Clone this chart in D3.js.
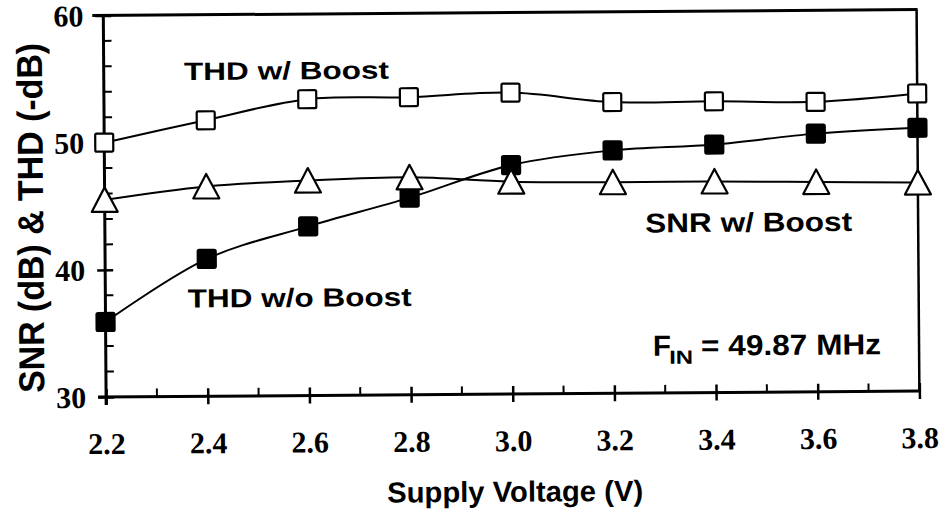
<!DOCTYPE html>
<html>
<head>
<meta charset="utf-8">
<script src="https://cdn.jsdelivr.net/npm/d3@7"></script>
<style>
  html, body { margin: 0; padding: 0; background: #fff; }
  svg { display: block; }
</style>
</head>
<body>
<svg id="chart" width="945" height="513"></svg>
<script>
// ---- data ----
const voltages = [2.2, 2.4, 2.6, 2.8, 3.0, 3.2, 3.4, 3.6, 3.8];
const thdWithBoost = [50.0, 51.7, 53.3, 53.4, 53.7, 52.9, 52.9, 52.8, 53.4];
const thdWithoutBoost = [35.9, 40.8, 43.3, 45.5, 48.0, 49.1, 49.5, 50.3, 50.7];
const snrWithBoost = [45.5, 46.5, 46.9, 47.1, 46.7, 46.6, 46.6, 46.5, 46.4];
const xTickLabels = ["2.2", "2.4", "2.6", "2.8", "3.0", "3.2", "3.4", "3.6", "3.8"];
const yTickValues = [30, 40, 50, 60];
const xMinorTicks = [2.3, 2.5, 2.7, 2.9, 3.1, 3.3, 3.5, 3.7];
const yMinorTicks = [32, 34, 36, 38, 42, 44, 46, 48, 52, 54, 56, 58];

const svg = d3.select("#chart");
const g = svg.append("g").attr("transform", "rotate(-0.42 512 204)");

const x = d3.scaleLinear().domain([2.2, 3.8]).range([104.7, 918]);
const y = d3.scaleLinear().domain([30, 60]).range([394, 12.5]);

const sans = "'Liberation Sans', Arial, Helvetica, sans-serif";
const serif = "'Liberation Serif', 'Times New Roman', Times, serif";

// frame: top and right border
g.append("line").attr("x1", x(2.2) - 11).attr("x2", x(3.8) + 1)
  .attr("y1", y(60)).attr("y2", y(60)).attr("stroke", "#000").attr("stroke-width", 3);
g.append("line").attr("x1", x(3.8)).attr("x2", x(3.8))
  .attr("y1", y(60)).attr("y2", y(30)).attr("stroke", "#000").attr("stroke-width", 2.5);

// x axis
const xAxis = g.append("g").attr("transform", `translate(0,${y(30)})`)
  .call(d3.axisBottom(x).tickValues(voltages).tickSize(0).tickFormat((d, i) => xTickLabels[i]));
xAxis.select(".domain").remove();
xAxis.append("line").attr("x1", x(2.2) - 8).attr("x2", x(3.8)).attr("y1", 0).attr("y2", 0)
  .attr("stroke", "#000").attr("stroke-width", 3);
xAxis.selectAll(".tick line").remove();
xAxis.selectAll(".tick").append("line").attr("y1", -8).attr("y2", 8)
  .attr("stroke", "#000").attr("stroke-width", 2.5);
xAxis.selectAll(".tick text").attr("y", 57).attr("dy", 0)
  .attr("font-family", serif).attr("font-weight", "bold").attr("font-size", 30).attr("fill", "#000");
g.append("g").selectAll("line").data(xMinorTicks).join("line")
  .attr("x1", d => x(d)).attr("x2", d => x(d)).attr("y1", y(30)).attr("y2", y(30) - 8)
  .attr("stroke", "#000").attr("stroke-width", 2);

// y axis
const yAxis = g.append("g").attr("transform", `translate(${x(2.2)},0)`)
  .call(d3.axisLeft(y).tickValues(yTickValues).tickSize(0).tickFormat(d3.format("d")));
yAxis.select(".domain").remove();
yAxis.append("line").attr("x1", 0).attr("x2", 0).attr("y1", y(60) - 1).attr("y2", y(30) + 8)
  .attr("stroke", "#000").attr("stroke-width", 3);
yAxis.selectAll(".tick line").remove();
yAxis.selectAll(".tick").append("line").attr("x1", -8).attr("x2", 8)
  .attr("stroke", "#000").attr("stroke-width", 2.5);
yAxis.selectAll(".tick text").attr("x", -20).attr("dy", "0.34em")
  .attr("font-family", serif).attr("font-weight", "bold").attr("font-size", 30).attr("fill", "#000");
g.append("g").selectAll("line").data(yMinorTicks).join("line")
  .attr("x1", x(2.2)).attr("x2", x(2.2) + 8).attr("y1", d => y(d)).attr("y2", d => y(d))
  .attr("stroke", "#000").attr("stroke-width", 2);

// lines
const line = d3.line().x(d => x(d[0])).y(d => y(d[1])).curve(d3.curveCatmullRom.alpha(0.5));
const series = [
  { name: "thdB", values: thdWithBoost, marker: "openSquare" },
  { name: "thdNB", values: thdWithoutBoost, marker: "filledSquare" },
  { name: "snrB", values: snrWithBoost, marker: "openTriangle" }
];
series.forEach(s => {
  g.append("path").datum(voltages.map((v, i) => [v, s.values[i]]))
    .attr("d", line).attr("fill", "none").attr("stroke", "#000").attr("stroke-width", 2);
});

// markers
const sq = 18;
series.forEach(s => {
  const pts = voltages.map((v, i) => [v, s.values[i]]);
  if (s.marker === "openTriangle") {
    g.append("g").selectAll("path").data(pts).join("path")
      .attr("d", d => {
        const cx = x(d[0]), cy = y(d[1]);
        return `M${cx},${cy - 12.5}L${cx + 13},${cy + 12}L${cx - 13},${cy + 12}Z`;
      })
      .attr("fill", "#fff").attr("stroke", "#000").attr("stroke-width", 2.2).attr("stroke-linejoin", "round");
  } else {
    g.append("g").selectAll("rect").data(pts).join("rect")
      .attr("x", d => x(d[0]) - sq / 2).attr("y", d => y(d[1]) - sq / 2)
      .attr("width", sq).attr("height", sq).attr("rx", 1.5)
      .attr("fill", s.marker === "filledSquare" ? "#000" : "#fff")
      .attr("stroke", "#000").attr("stroke-width", 2.2);
  }
});

// annotations
function label(txt, xx, yy, size, len) {
  g.append("text").attr("x", xx).attr("y", yy).text(txt)
    .attr("font-family", sans).attr("font-weight", "bold").attr("font-size", size)
    .attr("textLength", len).attr("lengthAdjust", "spacingAndGlyphs").attr("fill", "#000");
}
label("THD w/ Boost", 185, 77.7, 25, 205);
label("SNR w/ Boost", 645, 233.4, 27, 207);
label("THD w/o Boost", 187, 305.1, 26, 224);
label("F", 652, 356.9, 29, 18);
g.append("text").attr("x", 668).attr("y", 365).text("IN")
  .attr("font-family", sans).attr("font-weight", "bold").attr("font-size", 19)
  .attr("textLength", 24).attr("lengthAdjust", "spacingAndGlyphs");
label("= 49.87 MHz", 700, 356.9, 29, 180);

// axis titles
g.append("text").attr("x", 513).attr("y", 501.7).attr("text-anchor", "middle")
  .text("Supply Voltage (V)")
  .attr("font-family", sans).attr("font-weight", "bold").attr("font-size", 29)
  .attr("textLength", 256).attr("lengthAdjust", "spacingAndGlyphs");
g.append("text").attr("transform", "translate(43,214.4) rotate(-90)").attr("text-anchor", "middle")
  .text("SNR (dB) & THD (-dB)")
  .attr("font-family", sans).attr("font-weight", "bold").attr("font-size", 36)
  .attr("textLength", 350).attr("lengthAdjust", "spacingAndGlyphs");
</script>
</body>
</html>
